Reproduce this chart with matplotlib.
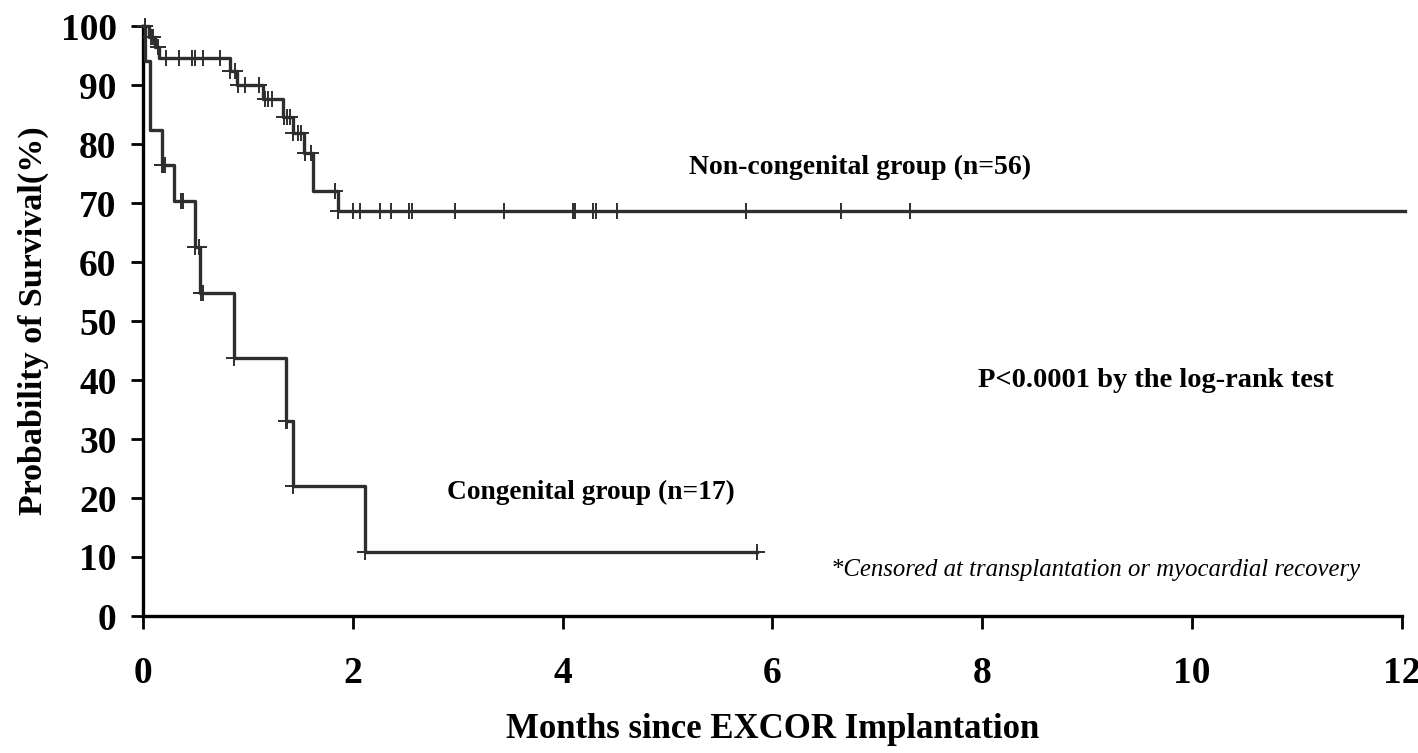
import matplotlib
matplotlib.use("Agg")
import matplotlib.pyplot as plt

# Non-congenital group (n=56): step times (months) and survival (%) after each step
nc_times = [0.0, 0.06, 0.11, 0.15, 0.83, 0.90, 1.14, 1.33, 1.43, 1.53, 1.62, 1.86, 12.03]
nc_surv = [100.0, 98.2, 96.4, 94.6, 92.3, 90.0, 87.6, 84.6, 81.8, 78.4, 72.1, 68.7, 68.7]
nc_cens_t = [0.02, 0.08, 0.10, 0.14, 0.22, 0.34, 0.47, 0.50, 0.57, 0.73, 0.83, 0.88,
             0.91, 0.97, 1.11, 1.16, 1.19, 1.23, 1.34, 1.37, 1.40, 1.43, 1.48, 1.51,
             1.54, 1.60, 1.83, 1.86, 2.00, 2.07, 2.26, 2.36, 2.54, 2.56, 2.97, 3.44,
             4.10, 4.12, 4.29, 4.32, 4.52, 5.75, 6.65, 7.31]

# Congenital group (n=17)
c_times = [0.0, 0.02, 0.07, 0.18, 0.30, 0.50, 0.54, 0.87, 1.36, 1.43, 2.12, 5.85]
c_surv = [100.0, 94.1, 82.4, 76.5, 70.3, 62.5, 54.7, 43.7, 33.0, 22.0, 10.9, 10.9]
c_cens_t = [0.18, 0.19, 0.21, 0.36, 0.38, 0.50, 0.53, 0.55, 0.57, 0.87, 1.36, 1.37,
            1.43, 2.12, 5.85]

xticks = [0, 2, 4, 6, 8, 10, 12]
yticks = [0, 10, 20, 30, 40, 50, 60, 70, 80, 90, 100]


def surv_at(times, surv, t):
    val = surv[0]
    for ti, si in zip(times, surv):
        if ti <= t + 1e-9:
            val = si
    return val


plt.rcParams['font.family'] = ['Liberation Serif', 'DejaVu Serif']
fig = plt.figure(figsize=(14.18, 7.53), dpi=100)
ax = fig.add_axes([143 / 1418, 1 - 616 / 753, (1402 - 143) / 1418, (616 - 26) / 753])

col = '#2e2e2e'
ax.step(nc_times, nc_surv, where='post', color=col, lw=2.4, clip_on=False, zorder=3)
ax.step(c_times, c_surv, where='post', color=col, lw=2.4, clip_on=False, zorder=3)

nc_cy = [surv_at(nc_times, nc_surv, t) for t in nc_cens_t]
c_cy = [surv_at(c_times, c_surv, t) for t in c_cens_t]
ax.plot(nc_cens_t, nc_cy, ls='none', marker='+', ms=12, mew=1.4, color=col, clip_on=False, zorder=4)
ax.plot(c_cens_t, c_cy, ls='none', marker='+', ms=12, mew=1.4, color=col, clip_on=False, zorder=4)

ax.set_xlim(0, 12)
ax.set_ylim(0, 100)
ax.set_xticks(xticks)
ax.set_yticks(yticks)
ax.set_xticklabels([str(v) for v in xticks], fontsize=27, fontweight='bold')
ax.set_yticklabels([str(v) for v in yticks], fontsize=27, fontweight='bold')
for s in ['top', 'right']:
    ax.spines[s].set_visible(False)
for s in ['left', 'bottom']:
    ax.spines[s].set_linewidth(2.4)
    ax.spines[s].set_color('black')
ax.tick_params(axis='y', direction='out', length=9, width=2, pad=10)
ax.tick_params(axis='x', direction='out', length=9, width=2, pad=20)

ax.set_xlabel('Months since EXCOR Implantation', fontsize=25, fontweight='bold', labelpad=16)
ax.set_ylabel('Probability of Survival(%)', fontsize=24.5, fontweight='bold', labelpad=8)

ax.text(6.83, 76.0, 'Non-congenital group (n=56)', fontsize=20, fontweight='bold',
        ha='center', va='center')
ax.text(9.65, 40.0, 'P<0.0001 by the log-rank test', fontsize=20.5, fontweight='bold',
        ha='center', va='center')
ax.text(4.27, 21.0, 'Congenital group (n=17)', fontsize=19.7, fontweight='bold',
        ha='center', va='center')
ax.text(9.08, 7.8, '*Censored at transplantation or myocardial recovery', fontsize=17.8,
        fontstyle='italic', ha='center', va='center')

fig.savefig('out.png', dpi=100)
